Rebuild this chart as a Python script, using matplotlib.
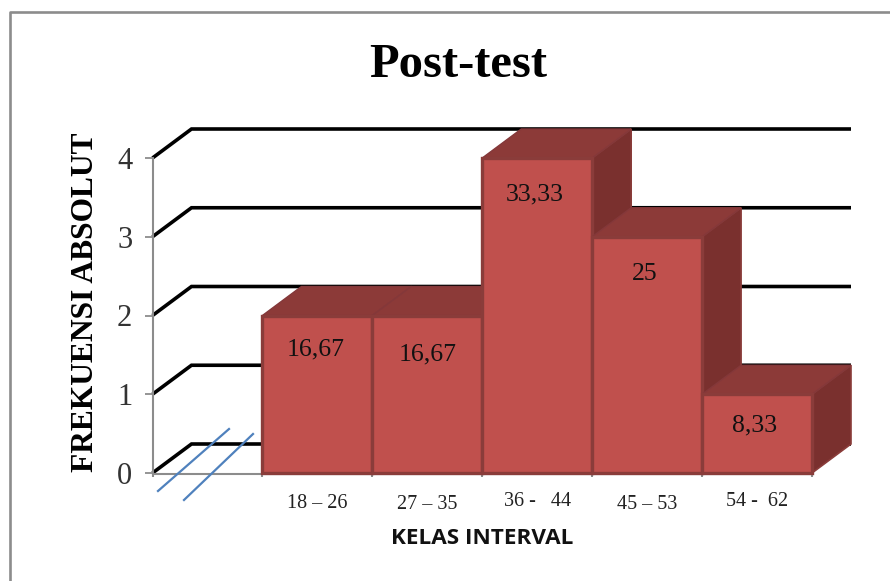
import matplotlib
matplotlib.use("Agg")
import matplotlib.pyplot as plt
from matplotlib.lines import Line2D
from matplotlib.patches import Polygon
from matplotlib.transforms import Affine2D

# data
categories = ["", "18 – 26", "27 – 35", "36 -   44", "45 – 53", "54 -  62"]
frequencies = [None, 2, 2, 4, 3, 1]
labels = [None, "16,67", "16,67", "33,33", "25", "8,33"]
yticks = [0, 1, 2, 3, 4]

W, H = 890, 581
SERIF = "Liberation Serif"
FRONT, TOP, SIDE, EDGE = "#C0504D", "#8C3A38", "#7A302E", "#8A3C3A"
GRAY = "#8C8C8C"

fig = plt.figure(figsize=(W / 100, H / 100), dpi=100)
L, R, B, T = 152.5, 812, 473, 158
ax = fig.add_axes([L / W, 1 - B / H, (R - L) / W, (B - T) / H])
ax.set_xlim(0, 6)
ax.set_ylim(0, 4)
for s in ("top", "right"):
    ax.spines[s].set_visible(False)
for s in ("left", "bottom"):
    ax.spines[s].set_color(GRAY)
    ax.spines[s].set_linewidth(1.5)
ax.spines["bottom"].set_position(("outward", 1))

# oblique depth in data units
DX = 39 / ((R - L) / 6)
DY = 29 / ((B - T) / 4)

# back wall grid lines with their left-wall diagonals
for v in yticks:
    ax.plot([0, DX, 6 + DX], [v, v + DY, v + DY], color="black", lw=2.6,
            solid_joinstyle="miter", solid_capstyle="butt", clip_on=False, zorder=1)

# column blocks
for i, (v, lab) in enumerate(zip(frequencies, labels)):
    if v is None:
        continue
    x0, x1 = i, i + 1
    side = [(x1, 0), (x1 + DX, DY), (x1 + DX, v + DY), (x1, v)]
    top = [(x0, v), (x0 + DX, v + DY), (x1 + DX, v + DY), (x1, v)]
    front = [(x0, 0), (x0, v), (x1, v), (x1, 0)]
    z = 3 + i * 0.1
    ax.add_patch(Polygon(side, fc=SIDE, ec="#8A3C3A", lw=1.2, clip_on=False, zorder=z))
    ax.add_patch(Polygon(top, fc=TOP, ec="#84383A", lw=1.0, clip_on=False, zorder=z))
    ax.add_patch(Polygon(front, fc=FRONT, ec=EDGE, lw=2.4, clip_on=False, zorder=z + 0.01))

# value labels, nudged as in the source
nudges = [None, (-2, -34), (0, -39), (-2, -36), (-2, -37), (-2, -31)]
for i, (v, lab) in enumerate(zip(frequencies, labels)):
    if v is None:
        continue
    ax.annotate(lab, (i + 0.5, v), xytext=(nudges[i][0] * 0.72, nudges[i][1] * 0.72),
                textcoords="offset points", ha="center", va="center",
                fontsize=18.5, family=SERIF, color="#111111", zorder=6)

# axes ticks
ax.set_yticks(yticks)
ax.tick_params(axis="y", length=6, width=1.3, color=GRAY, pad=8.5,
               labelsize=22, labelcolor="#333333")
for t in ax.get_yticklabels():
    t.set_family(SERIF)
ax.set_xticks(range(7))
ax.tick_params(axis="x", which="major", length=2.5, width=1.5, color=GRAY, labelbottom=False)
ax.set_xticks([i + 0.5 for i in range(1, 6)], minor=True)
ax.set_xticklabels(categories[1:], minor=True)
ax.tick_params(axis="x", which="minor", length=0, labelsize=14.5, labelcolor="#222222")
pads = [14, 14.5, 13, 14.5, 13]
for tick, p in zip(ax.xaxis.get_minor_ticks(), pads):
    tick.set_pad(p)
    tick.label1.set_family(SERIF)
for s in ax.spines.values():
    s.set_zorder(2)

ax.set_ylabel("FREKUENSI ABSOLUT", family=SERIF, fontweight="bold", fontsize=22.7, color="black")
ax.yaxis.set_label_coords((100 - L) / (R - L), (B - 302) / (B - T))
ax.set_xlabel("KELAS INTERVAL", family="Open Sans", fontweight="bold", fontsize=16.2, color="#111111")
ax.xaxis.set_label_coords((482 - L) / (R - L), (B - 538) / (B - T))
ax.xaxis.label.set_verticalalignment("center")

fig.text(458 / W, 1 - 65 / H, "Post-test", family=SERIF, fontweight="bold",
         fontsize=35, ha="center", va="center", color="black")

# decoration in pixel space: chart frame and hand-drawn axis-break strokes
px = Affine2D().scale(1 / W, -1 / H).translate(0, 1) + fig.transFigure
frame_x, frame_y = [9.5, 9.5, 890], [581, 11.5, 11.5]
fig.add_artist(Line2D(frame_x, frame_y, transform=px, color=GRAY, lw=1.9))
breaks = [([158, 229], [491, 429]), ([184, 253], [500, 434])]
for bx, by in breaks:
    fig.add_artist(Line2D(bx, by, transform=px, color="#4F81BD", lw=1.6, zorder=8))

fig.savefig("out.png", dpi=100)
